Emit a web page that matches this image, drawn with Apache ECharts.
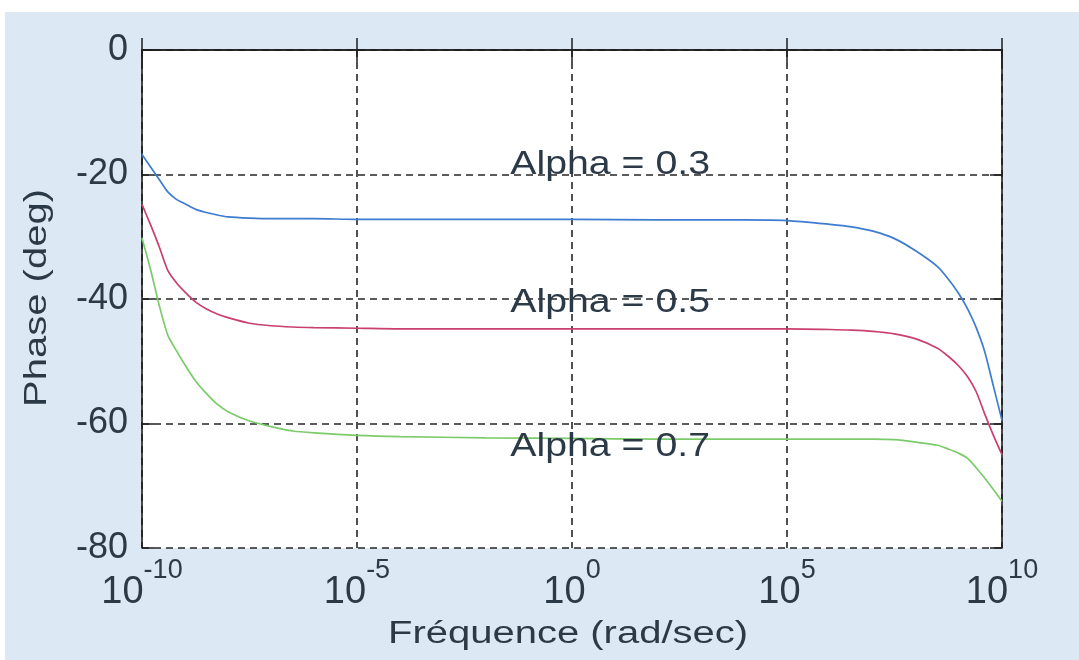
<!DOCTYPE html>
<html>
<head>
<meta charset="utf-8">
<script src="https://cdn.jsdelivr.net/npm/echarts@6/dist/echarts.min.js"></script>
<style>
  html, body { margin: 0; padding: 0; background: #ffffff; }
  #panel { position: absolute; left: 5px; top: 12px; right: 0; bottom: 0; background: #dce8f4; }
  #chart { position: absolute; left: 0; top: 0; width: 1079px; height: 660px; }
</style>
</head>
<body>
<div id="panel"></div>
<div id="chart"></div>
<script>
// Frequency samples, as powers of ten (rad/sec)
const logFreq = [-10, -9.8, -9.6, -9.4, -9.2, -9, -8.75, -8.5, -8.25, -8, -7.5, -7, -6.5, -6,
  -5, -4, -2, 0, 2, 4, 5, 6, 6.5, 7, 7.5, 8, 8.5, 8.75, 9, 9.2, 9.4, 9.6, 9.8, 10];

// Phase (deg) for each fractional order
const phaseA03 = [-16.8, -18.8, -20.8, -22.8, -24.0, -24.7, -25.6, -26.1, -26.5, -26.8, -27.0, -27.1, -27.1, -27.1,
  -27.2, -27.2, -27.2, -27.2, -27.3, -27.3, -27.4, -28.0, -28.4, -29.1, -30.3, -32.3, -34.8, -36.8, -39.2, -41.6, -44.6, -48.5, -54.0, -59.5];
const phaseA05 = [-24.8, -28.1, -31.6, -35.4, -37.4, -38.9, -40.5, -41.6, -42.4, -43.0, -43.9, -44.3, -44.5, -44.6,
  -44.7, -44.8, -44.8, -44.8, -44.8, -44.8, -44.8, -44.9, -45.0, -45.2, -45.6, -46.4, -47.9, -49.2, -50.8, -52.5, -54.9, -58.5, -61.9, -65.0];
const phaseA07 = [-30.2, -35.3, -41.0, -45.8, -48.3, -50.6, -53.2, -55.2, -56.9, -58.1, -59.6, -60.5, -61.2, -61.5,
  -61.9, -62.1, -62.3, -62.4, -62.5, -62.5, -62.5, -62.5, -62.5, -62.5, -62.6, -63.0, -63.5, -64.1, -64.8, -65.6, -67.1, -68.8, -70.6, -72.5];

const seriesNames = ['Alpha = 0.3', 'Alpha = 0.5', 'Alpha = 0.7'];
const seriesColors = ['#3d7cd0', '#c9406d', '#7ccb6b'];

// Where each curve's annotation sits, in data units [rad/sec, deg]
const noteAt = [[7.7, -18.4], [7.7, -40.6], [7.7, -63.7]];

const xTitle = 'Fréquence (rad/sec)';
const yTitle = 'Phase (deg)';

const FONT = '"Liberation Sans", Arial, Helvetica, sans-serif';
const INK = '#2c3a48';

const freq = logFreq.map(e => Math.pow(10, e));
const pairs = vals => freq.map((f, i) => [f, vals[i]]);

const chart = echarts.init(document.getElementById('chart'), null, { renderer: 'canvas' });

const dash = { color: '#262626', width: 1.6, type: [7, 5] };
const frame = { show: true, lineStyle: { color: '#1e1e1e', width: 1.6 } };
const innerTick = { show: true, inside: true, length: 12, lineStyle: { color: '#1e1e1e', width: 1.5 } };

chart.setOption({
  animation: false,
  backgroundColor: 'transparent',
  grid: { left: 142, top: 50, right: 77, bottom: 112, show: true, backgroundColor: '#ffffff', borderWidth: 0 },
  xAxis: [{
    type: 'log', logBase: 10, min: 1e-10, max: 1e10, interval: 5,
    position: 'bottom',
    axisLine: frame, axisTick: innerTick,
    splitLine: { show: true, lineStyle: dash },
    minorTick: { show: false }, minorSplitLine: { show: false },
    axisLabel: {
      margin: 9,
      formatter: v => '{b|10}{s|' + Math.round(Math.log10(v)) + '}',
      rich: {
        b: { fontSize: 38, lineHeight: 71, fontFamily: FONT, color: INK },
        s: { fontSize: 27, lineHeight: 26, verticalAlign: 'top', fontFamily: FONT, color: INK }
      }
    }
  }, {
    type: 'log', logBase: 10, min: 1e-10, max: 1e10, interval: 5,
    position: 'top',
    axisLine: frame, axisTick: innerTick,
    splitLine: { show: false }, axisLabel: { show: false }
  }],
  yAxis: [{
    type: 'value', min: -80, max: 0, interval: 20,
    position: 'left',
    axisLine: frame, axisTick: innerTick,
    splitLine: { show: true, lineStyle: dash },
    axisLabel: { margin: 14, fontSize: 36, fontFamily: FONT, color: INK }
  }, {
    type: 'value', min: -80, max: 0, interval: 20,
    position: 'right',
    axisLine: frame, axisTick: innerTick,
    splitLine: { show: false }, axisLabel: { show: false }
  }],
  series: [phaseA03, phaseA05, phaseA07].map((vals, i) => ({
    name: seriesNames[i],
    type: 'line',
    xAxisIndex: 0, yAxisIndex: 0,
    data: pairs(vals),
    showSymbol: false, symbol: 'none',
    smooth: 0.25,
    lineStyle: { color: seriesColors[i], width: 1.7 },
    z: 3
  }))
});

// Curve annotations, slightly widened text as in the original plot
const notes = seriesNames.map((txt, i) => {
  const p = chart.convertToPixel({ xAxisIndex: 0, yAxisIndex: 0 }, noteAt[i]);
  return {
    type: 'text', x: p[0], y: p[1], scaleX: 1.19, z: 100,
    style: {
      text: txt, fontSize: 33, fontFamily: FONT, fill: INK,
      align: 'center', verticalAlign: 'middle',
      textAlign: 'center', textVerticalAlign: 'middle'
    }
  };
});

// Axis titles
const titles = [{
  type: 'text', x: 568, y: 634, scaleX: 1.29, z: 100,
  style: {
    text: xTitle, fontSize: 31, fontFamily: FONT, fill: INK,
    align: 'center', verticalAlign: 'middle', textAlign: 'center', textVerticalAlign: 'middle'
  }
}, {
  type: 'text', x: 37, y: 298, scaleX: 1.25, rotation: Math.PI / 2, z: 100,
  style: {
    text: yTitle, fontSize: 32, fontFamily: FONT, fill: INK,
    align: 'center', verticalAlign: 'middle', textAlign: 'center', textVerticalAlign: 'middle'
  }
}];

chart.setOption({ graphic: notes.concat(titles) });
</script>
</body>
</html>
